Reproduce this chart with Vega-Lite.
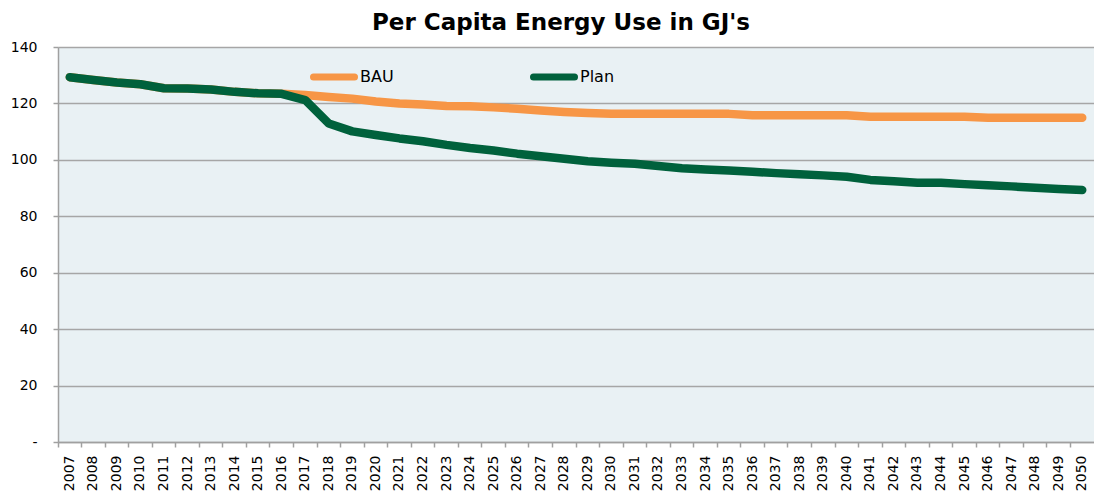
{
  "$schema": "https://vega.github.io/schema/vega-lite/v6.json",
  "autosize": {"type": "none"},
  "width": 1036,
  "height": 395,
  "padding": {"left": 58, "top": 47, "right": 0, "bottom": 54},
  "background": "white",
  "title": {
    "text": "Per Capita Energy Use in GJ's",
    "font": "DejaVu Sans",
    "fontSize": 23,
    "fontWeight": "bold",
    "color": "black",
    "anchor": "middle",
    "dx": -15,
    "offset": 5
  },
  "config": {
    "view": {"fill": "#E9F1F4", "stroke": null},
    "axis": {
      "labelFont": "DejaVu Sans",
      "labelColor": "black",
      "domainColor": "#A0A0A0",
      "domainWidth": 1.5,
      "tickColor": "#A0A0A0",
      "tickWidth": 1.5,
      "tickSize": 5,
      "title": null
    }
  },
  "data": {
    "values": [
      {"year": "2007", "series": "BAU", "value": 129.3},
      {"year": "2008", "series": "BAU", "value": 128.3},
      {"year": "2009", "series": "BAU", "value": 127.4},
      {"year": "2010", "series": "BAU", "value": 126.8},
      {"year": "2011", "series": "BAU", "value": 125.4},
      {"year": "2012", "series": "BAU", "value": 125.3},
      {"year": "2013", "series": "BAU", "value": 124.9},
      {"year": "2014", "series": "BAU", "value": 124.1},
      {"year": "2015", "series": "BAU", "value": 123.6},
      {"year": "2016", "series": "BAU", "value": 123.4},
      {"year": "2017", "series": "BAU", "value": 123.0},
      {"year": "2018", "series": "BAU", "value": 122.3},
      {"year": "2019", "series": "BAU", "value": 121.7},
      {"year": "2020", "series": "BAU", "value": 120.7},
      {"year": "2021", "series": "BAU", "value": 120.0},
      {"year": "2022", "series": "BAU", "value": 119.6},
      {"year": "2023", "series": "BAU", "value": 119.1},
      {"year": "2024", "series": "BAU", "value": 119.0},
      {"year": "2025", "series": "BAU", "value": 118.6},
      {"year": "2026", "series": "BAU", "value": 118.1},
      {"year": "2027", "series": "BAU", "value": 117.5},
      {"year": "2028", "series": "BAU", "value": 117.0},
      {"year": "2029", "series": "BAU", "value": 116.6},
      {"year": "2030", "series": "BAU", "value": 116.3},
      {"year": "2031", "series": "BAU", "value": 116.3},
      {"year": "2032", "series": "BAU", "value": 116.3},
      {"year": "2033", "series": "BAU", "value": 116.3},
      {"year": "2034", "series": "BAU", "value": 116.3},
      {"year": "2035", "series": "BAU", "value": 116.3},
      {"year": "2036", "series": "BAU", "value": 115.8},
      {"year": "2037", "series": "BAU", "value": 115.8},
      {"year": "2038", "series": "BAU", "value": 115.8},
      {"year": "2039", "series": "BAU", "value": 115.8},
      {"year": "2040", "series": "BAU", "value": 115.8},
      {"year": "2041", "series": "BAU", "value": 115.3},
      {"year": "2042", "series": "BAU", "value": 115.3},
      {"year": "2043", "series": "BAU", "value": 115.3},
      {"year": "2044", "series": "BAU", "value": 115.3},
      {"year": "2045", "series": "BAU", "value": 115.3},
      {"year": "2046", "series": "BAU", "value": 114.9},
      {"year": "2047", "series": "BAU", "value": 114.9},
      {"year": "2048", "series": "BAU", "value": 114.9},
      {"year": "2049", "series": "BAU", "value": 114.9},
      {"year": "2050", "series": "BAU", "value": 114.9},
      {"year": "2007", "series": "Plan", "value": 129.3},
      {"year": "2008", "series": "Plan", "value": 128.3},
      {"year": "2009", "series": "Plan", "value": 127.4},
      {"year": "2010", "series": "Plan", "value": 126.8},
      {"year": "2011", "series": "Plan", "value": 125.4},
      {"year": "2012", "series": "Plan", "value": 125.3},
      {"year": "2013", "series": "Plan", "value": 124.9},
      {"year": "2014", "series": "Plan", "value": 124.1},
      {"year": "2015", "series": "Plan", "value": 123.6},
      {"year": "2016", "series": "Plan", "value": 123.4},
      {"year": "2017", "series": "Plan", "value": 121.2},
      {"year": "2018", "series": "Plan", "value": 112.9},
      {"year": "2019", "series": "Plan", "value": 110.1},
      {"year": "2020", "series": "Plan", "value": 108.8},
      {"year": "2021", "series": "Plan", "value": 107.6},
      {"year": "2022", "series": "Plan", "value": 106.6},
      {"year": "2023", "series": "Plan", "value": 105.3},
      {"year": "2024", "series": "Plan", "value": 104.2},
      {"year": "2025", "series": "Plan", "value": 103.3},
      {"year": "2026", "series": "Plan", "value": 102.2},
      {"year": "2027", "series": "Plan", "value": 101.3},
      {"year": "2028", "series": "Plan", "value": 100.4},
      {"year": "2029", "series": "Plan", "value": 99.5},
      {"year": "2030", "series": "Plan", "value": 99.0},
      {"year": "2031", "series": "Plan", "value": 98.6},
      {"year": "2032", "series": "Plan", "value": 97.8},
      {"year": "2033", "series": "Plan", "value": 97.0},
      {"year": "2034", "series": "Plan", "value": 96.6},
      {"year": "2035", "series": "Plan", "value": 96.2},
      {"year": "2036", "series": "Plan", "value": 95.8},
      {"year": "2037", "series": "Plan", "value": 95.3},
      {"year": "2038", "series": "Plan", "value": 94.9},
      {"year": "2039", "series": "Plan", "value": 94.5},
      {"year": "2040", "series": "Plan", "value": 94.0},
      {"year": "2041", "series": "Plan", "value": 92.9},
      {"year": "2042", "series": "Plan", "value": 92.4},
      {"year": "2043", "series": "Plan", "value": 91.9},
      {"year": "2044", "series": "Plan", "value": 91.9},
      {"year": "2045", "series": "Plan", "value": 91.4},
      {"year": "2046", "series": "Plan", "value": 91.0},
      {"year": "2047", "series": "Plan", "value": 90.6},
      {"year": "2048", "series": "Plan", "value": 90.1},
      {"year": "2049", "series": "Plan", "value": 89.7},
      {"year": "2050", "series": "Plan", "value": 89.3}
    ]
  },
  "mark": {"type": "line", "strokeWidth": 8.5, "strokeCap": "round", "strokeJoin": "round"},
  "encoding": {
    "x": {
      "field": "year",
      "type": "ordinal",
      "scale": {"type": "band", "paddingInner": 0, "paddingOuter": 0},
      "axis": {
        "bandPosition": 0,
        "labelOffset": 0,
        "labelAngle": -90,
        "labelAlign": "right",
        "labelBaseline": "middle",
        "labelFontSize": 14,
        "labelPadding": 8,
        "grid": false
      }
    },
    "y": {
      "field": "value",
      "type": "quantitative",
      "scale": {"domain": [0, 140], "nice": false},
      "axis": {
        "values": [0, 20, 40, 60, 80, 100, 120, 140],
        "labelExpr": "datum.value == 0 ? '-' : datum.label",
        "labelFontSize": 14,
        "labelPadding": 16,
        "grid": true,
        "gridColor": "#A6A6A6",
        "gridWidth": 1.5
      }
    },
    "color": {
      "field": "series",
      "type": "nominal",
      "scale": {"domain": ["BAU", "Plan"], "range": ["#F79646", "#00613C"]},
      "legend": {
        "orient": "none",
        "legendX": 252,
        "legendY": 6,
        "direction": "horizontal",
        "title": null,
        "symbolType": "stroke",
        "symbolSize": 1681,
        "symbolStrokeWidth": 7,
        "labelFont": "DejaVu Sans",
        "labelFontSize": 16,
        "labelColor": "black",
        "labelOffset": 2,
        "columnPadding": 125,
        "padding": 0,
        "encode": {"symbols": {"update": {"strokeCap": {"value": "round"}}}}
      }
    }
  }
}
